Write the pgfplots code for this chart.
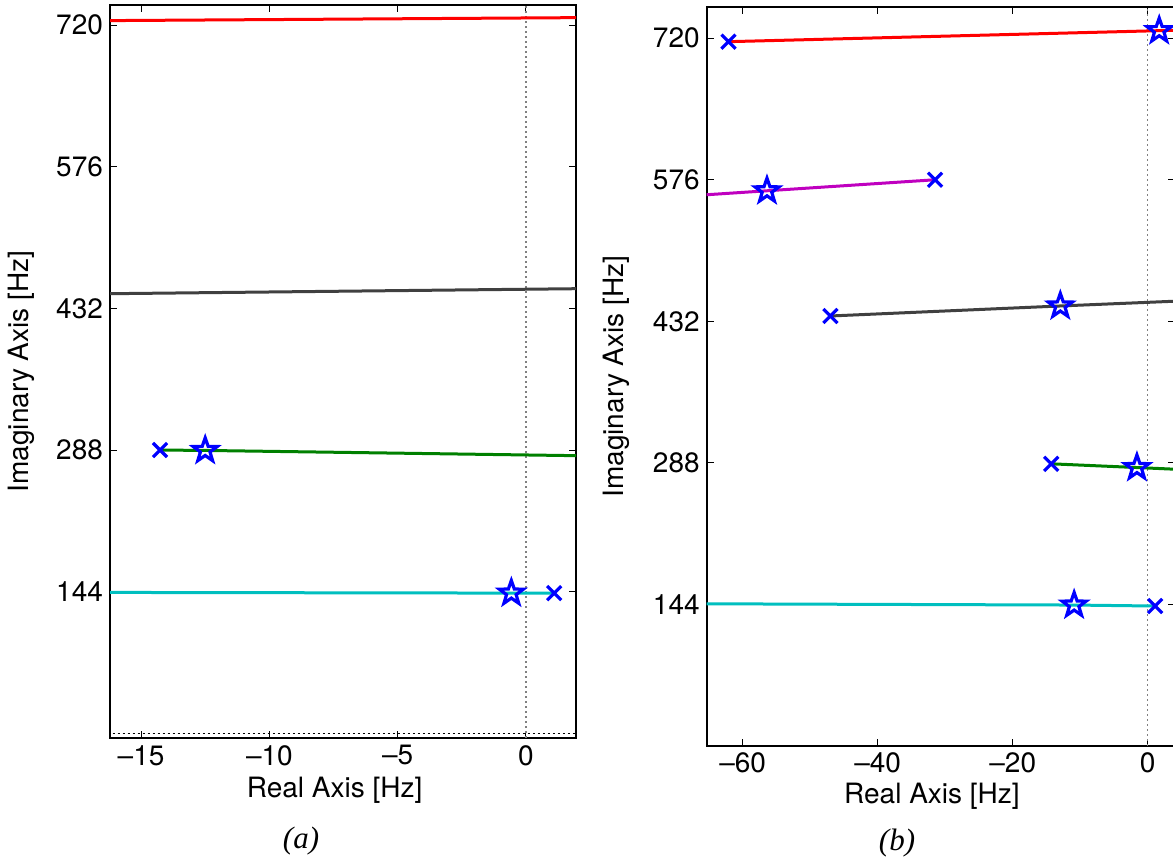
\documentclass[border=0pt]{standalone}
\usepackage{fontspec}
\setmainfont{TeX Gyre Heros}
\newfontfamily\capfont{Liberation Serif}
\usepackage{pgfplots}
\pgfplotsset{compat=1.18}

\definecolor{mred}{rgb}{1,0,0}
\definecolor{mmag}{rgb}{0.75,0,0.75}
\definecolor{mgreen}{rgb}{0,0.5,0}
\definecolor{mcyan}{rgb}{0,0.75,0.75}
\definecolor{mgray}{rgb}{0.25,0.25,0.25}
\definecolor{mblue}{rgb}{0,0,1}

% matlab-like pentagram outline
\pgfdeclareplotmark{pentagram}{%
  \pgfpathmoveto{\pgfpointpolar{90}{\pgfplotmarksize}}%
  \pgfpathlineto{\pgfpointpolar{126}{0.4\pgfplotmarksize}}%
  \pgfpathlineto{\pgfpointpolar{162}{\pgfplotmarksize}}%
  \pgfpathlineto{\pgfpointpolar{198}{0.4\pgfplotmarksize}}%
  \pgfpathlineto{\pgfpointpolar{234}{\pgfplotmarksize}}%
  \pgfpathlineto{\pgfpointpolar{270}{0.4\pgfplotmarksize}}%
  \pgfpathlineto{\pgfpointpolar{306}{\pgfplotmarksize}}%
  \pgfpathlineto{\pgfpointpolar{342}{0.4\pgfplotmarksize}}%
  \pgfpathlineto{\pgfpointpolar{18}{\pgfplotmarksize}}%
  \pgfpathlineto{\pgfpointpolar{54}{0.4\pgfplotmarksize}}%
  \pgfpathclose
  \pgfusepathqstroke}

\pgfplotsset{
  rl/.style={
    scale only axis, anchor=south west,
    axis line style={line width=1pt},
    tick style={black, line width=0.5pt}, major tick length=3.5pt,
    ytick={144,288,432,576,720}, yticklabels={144,288,432,576,720},
    tick label style={font=\fontsize{14}{16}\selectfont},
    label style={font=\fontsize{14}{16}\selectfont},
    xlabel={Real Axis [Hz]}, ylabel={Imaginary Axis [Hz]},
    every axis plot/.append style={line width=1.5pt},
  },
  pole/.style={only marks, mark=x, mark size=5pt, mblue, line width=1.6pt},
  zero/.style={only marks, mark=pentagram, mark size=6.3pt, mblue, line width=1.6pt},
  zline/.style={gray, line width=0.6pt, dash pattern=on 1pt off 1.5pt},
}

\begin{document}
\begin{tikzpicture}
\path[use as bounding box] (0,0) rectangle (586.5pt,430.5pt);
\clip (0,0) rectangle (586.5pt,430.5pt);

% (a)
\begin{axis}[rl, at={(55pt,61.35pt)}, width=233pt, height=366.8pt,
  xmin=-16.21, xmax=1.95, ymin=-5, ymax=740.7,
  xtick={-15,-10,-5,0}, xticklabels={\textendash15,\textendash10,\textendash5,0},
  xlabel style={at={(axis description cs:0.482,-0.0705)}, anchor=center},
  ylabel style={at={(axis description cs:-0.191,0.5)}, anchor=center}]
\addplot[zline] coordinates {(0,-20) (0,760)};
\addplot[zline, black] coordinates {(-20,0) (5,0)};
\addplot[mred] coordinates {(-17,724.4) (3,727.7)};
\addplot[mgray] coordinates {(-17,446.7) (3,452.3)};
\addplot[mgreen] coordinates {(-14.26,288.0) (-12.5,287.6) (3,281.9)};
\addplot[mcyan] coordinates {(-17,143.3) (-0.57,142.6) (1.1,142.6)};
\addplot[pole] coordinates {(-14.26,288.0) (1.1,142.6)};
\addplot[zero] coordinates {(-12.5,287.6) (-0.57,142.6)};
\end{axis}

% (b)
\begin{axis}[rl, at={(353.35pt,57.55pt)}, width=234.15pt, height=369.3pt,
  xmin=-65.33, xmax=4.04, ymin=0, ymax=751.5,
  xtick={-60,-40,-20,0}, xticklabels={\textendash60,\textendash40,\textendash20,0},
  xlabel style={at={(axis description cs:0.481,-0.0678)}, anchor=center},
  ylabel style={at={(axis description cs:-0.1937,0.5)}, anchor=center}]
\addplot[zline] coordinates {(0,-20) (0,770)};
\addplot[mred] coordinates {(-62.1,716.5) (1.7,727.7) (6,728.4)};
\addplot[mmag] coordinates {(-67,560.0) (-56.4,564.8) (-31.5,576.0)};
\addplot[mgray] coordinates {(-47.0,437.4) (-12.95,447.6) (6,453.0)};
\addplot[mgreen] coordinates {(-14.3,287.0) (-1.6,283.2) (6,280.9)};
\addplot[mcyan] coordinates {(-67,144.6) (-10.9,143.3) (1.1,142.3)};
\addplot[pole] coordinates {(-62.1,716.5) (-31.5,576.0) (-47.0,437.4) (-14.3,287.0) (1.1,142.3)};
\addplot[zero] coordinates {(1.7,727.7) (-56.4,564.8) (-12.95,447.6) (-1.6,283.2) (-10.9,143.3)};
\end{axis}

\node[font=\capfont\itshape\fontsize{15.5}{18}\selectfont] at (150.5pt,10pt) {(a)};
\node[font=\capfont\itshape\fontsize{15.5}{18}\selectfont] at (448.5pt,9pt) {(b)};
\end{tikzpicture}
\end{document}
